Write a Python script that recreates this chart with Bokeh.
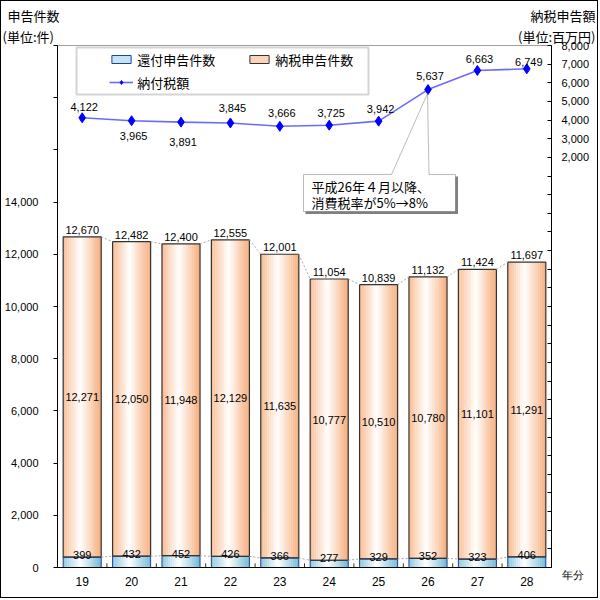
import numpy as np
from bokeh.plotting import figure
from bokeh.models import (Range1d, LinearAxis, FixedTicker, NumeralTickFormatter, ColumnDataSource,
                          Legend, LegendItem, Label, PolyAnnotation, BoxAnnotation, Title)
from bokeh.core.properties import value
from bokeh.embed import file_html
from bokeh.resources import INLINE

# ---------------- data ----------------
years = ["19", "20", "21", "22", "23", "24", "25", "26", "27", "28"]
refund_counts = [399, 432, 452, 426, 366, 277, 329, 352, 323, 406]          # 還付申告件数
tax_counts = [12271, 12050, 11948, 12129, 11635, 10777, 10510, 10780, 11101, 11291]  # 納税申告件数
total_counts = [12670, 12482, 12400, 12555, 12001, 11054, 10839, 11132, 11424, 11697]
tax_amounts = [4122, 3965, 3891, 3845, 3666, 3725, 3942, 5637, 6663, 6749]  # 納付税額(百万円)
left_ticks = list(range(0, 20001, 2000))
left_labelled_max = 14000
right_ticks = list(range(-20000, 8001, 1000))
right_labelled_min = 2000
x_unit_label = "年分"
left_title, left_unit = "申告件数", "(単位:件)"
right_title, right_unit = "納税申告額", "(単位:百万円)"

# ---------------- style ----------------
NUM_FONT = "Liberation Sans"
NUM_SIZE = "11px"
JP_FONT = "Noto Sans CJK JP"
amount_label_dy = [-11, 15, 20, -15, -13, -12, -12, -14, -11, -7]

W, H = 598, 598
p = figure(width=W, height=H, x_range=Range1d(0, 10), y_range=Range1d(0, 20000),
           output_backend="svg", toolbar_location=None,
           min_border_left=56, min_border_right=48, min_border_top=44, min_border_bottom=32)
p.styles = {"border": "1px solid black"}
p.extra_y_ranges = {"amt": Range1d(-20000, 8000)}
p.xgrid.visible = False
p.ygrid.visible = False
p.outline_line_color = "#A0A0A0"
p.outline_line_width = 1
p.background_fill_color = "white"
p.border_fill_color = "white"

xc = np.arange(len(years)) + 0.5
bw = 0.77
refund = np.array(refund_counts, dtype=float)
total = np.array(total_counts, dtype=float)


def lerp(a, b, t):
    return tuple(int(round(a[i] + (b[i] - a[i]) * t)) for i in range(3))


def grad(c0, c1, t, mid=0.45):
    w = (255, 255, 255)
    c = lerp(c0, w, t / mid) if t < mid else lerp(w, c1, (t - mid) / (1 - mid))
    return "#%02x%02x%02x" % c


PEACH_L, PEACH_R = (249, 188, 146), (245, 172, 122)
BLUE_L, BLUE_R = (140, 200, 224), (110, 185, 214)

N = 18
for k in range(N):
    t = (k + 0.5) / N
    xs = xc - bw / 2 + (k + 0.5) * bw / N
    p.vbar(x=xs, bottom=0, top=refund, width=bw / N * 1.12,
           fill_color=grad(BLUE_L, BLUE_R, t), line_color=None)
    p.vbar(x=xs, bottom=refund, top=total, width=bw / N * 1.12,
           fill_color=grad(PEACH_L, PEACH_R, t), line_color=None)

# outlines
p.vbar(x=xc, bottom=0, top=refund, width=bw, fill_color=None, line_color="#2040A0", line_width=1)
p.vbar(x=xc, bottom=refund, top=total, width=bw, fill_color=None, line_color="#333333", line_width=1.2)

# series lines
p.segment(x0=xc[:-1] + bw / 2, y0=total[:-1], x1=xc[1:] - bw / 2, y1=total[1:],
          line_color="#A8A8A8", line_dash="2 2", line_width=1)
p.segment(x0=xc[:-1] + bw / 2, y0=refund[:-1], x1=xc[1:] - bw / 2, y1=refund[1:],
          line_color="#A8A8A8", line_dash="2 2", line_width=1)

# category boundary ticks
bounds = np.arange(1, len(years))
p.segment(x0=bounds, y0=0, x1=bounds, y1=160, line_color="#333333", line_width=1)

# bar labels
lab_src = ColumnDataSource(dict(
    x=xc, total=total, total_t=[f"{v:,}" for v in total_counts],
    mid=refund + np.array(tax_counts) / 2, tax_t=[f"{v:,}" for v in tax_counts],
    refund=refund, refund_t=[f"{v:,}" for v in refund_counts]))
common = dict(text_font=value(NUM_FONT), text_font_size=NUM_SIZE, text_color="black", text_align="center")
p.text(x="x", y="total", text="total_t", source=lab_src, text_baseline="bottom", y_offset=-3, **common)
p.text(x="x", y="mid", text="tax_t", source=lab_src, text_baseline="middle", **common)
p.text(x="x", y="refund", text="refund_t", source=lab_src, text_baseline="bottom", y_offset=2, **common)

# tax amount line
amt_src = ColumnDataSource(dict(x=xc, y=tax_amounts, t=[f"{v:,}" for v in tax_amounts], dy=amount_label_dy))
r_line = p.line(x="x", y="y", source=amt_src, y_range_name="amt", line_color="#6A6AFF", line_width=1.6)
r_pts = p.scatter(x="x", y="y", source=amt_src, y_range_name="amt", marker="diamond", size=10,
                  fill_color="#0000FF", line_color="#0000FF")
p.text(x="x", y="y", text="t", source=amt_src, y_range_name="amt", text_baseline="middle",
       x_offset=2, y_offset="dy", **common)

# ---------------- axes ----------------
p.yaxis.ticker = FixedTicker(ticks=left_ticks)
p.yaxis.formatter = NumeralTickFormatter(format="0,0")
p.yaxis.major_label_overrides = {t: "" for t in left_ticks if t > left_labelled_max}
p.yaxis.major_tick_out = 4
p.yaxis.major_tick_in = 0
p.yaxis.minor_tick_line_color = None
p.yaxis.major_label_standoff = 15
p.yaxis.axis_line_color = "black"
p.yaxis.major_label_text_font = NUM_FONT
p.yaxis.major_label_text_font_size = NUM_SIZE
p.yaxis.major_label_text_color = "black"

right_over = {t: "" for t in right_ticks if t < right_labelled_min}
right_over[right_ticks[0]] = "\n" + x_unit_label
ry = LinearAxis(y_range_name="amt", ticker=FixedTicker(ticks=right_ticks),
                formatter=NumeralTickFormatter(format="0,0"),
                major_label_overrides=right_over,
                major_tick_in=4, major_tick_out=0, minor_tick_line_color=None,
                major_label_standoff=10, axis_line_color="black",
                major_label_text_font=NUM_FONT, major_label_text_font_size=NUM_SIZE,
                major_label_text_color="black")
p.add_layout(ry, "right")

p.xaxis.ticker = FixedTicker(ticks=list(xc))
p.xaxis.major_label_overrides = {float(x): y for x, y in zip(xc, years)}
p.xaxis.major_tick_in = 0
p.xaxis.major_tick_out = 0
p.xaxis.minor_tick_line_color = None
p.xaxis.major_label_standoff = 9
p.xaxis.axis_line_color = "black"
p.xaxis.major_label_text_font = NUM_FONT
p.xaxis.major_label_text_font_size = "12px"
p.xaxis.major_label_text_color = "black"

# ---------------- legend ----------------
FX0, FY0 = 57, 567   # frame bottom-left in reference pixels (for screen-unit annotations)


def fx(x):
    return x - FX0


def fy(y):
    return FY0 - y


p.add_layout(BoxAnnotation(left=fx(76), right=fx(368), top=fy(47), bottom=fy(94),
                           left_units="screen", right_units="screen", top_units="screen",
                           bottom_units="screen", fill_color="white", fill_alpha=1,
                           line_color="#707070", line_width=2, level="annotation"))

zero = np.zeros(len(years))
r_blue = p.vbar(x=xc, bottom=zero, top=zero, width=bw, fill_color="#C4E4F0", line_color="#2040A0")
r_peach = p.vbar(x=xc, bottom=zero, top=zero, width=bw, fill_color="#FBD3B6", line_color="#333333")
legend = Legend(items=[LegendItem(label="還付申告件数", renderers=[r_blue]),
                       LegendItem(label="納税申告件数", renderers=[r_peach]),
                       LegendItem(label="納付税額", renderers=[r_line, r_pts])],
                orientation="horizontal", ncols=2, location=(fx(109.3), fy(91.7)),
                border_line_color=None, background_fill_alpha=0,
                label_text_font=JP_FONT, label_text_font_size="13px", label_text_color="black",
                glyph_width=24, glyph_height=10, label_height=18, label_standoff=4,
                spacing=4, padding=0, margin=0, label_width=106)
p.add_layout(legend)

# ---------------- callout ----------------
p.add_layout(BoxAnnotation(left=fx(305), right=fx(457.5), top=fy(176), bottom=fy(213.5),
                           left_units="screen", right_units="screen", top_units="screen",
                           bottom_units="screen", fill_color="#808080", fill_alpha=1,
                           line_color=None, level="annotation"))
cx = [303, 391, 427, 428.5, 455, 455, 303]
cy = [174, 174, 93, 174, 174, 211, 211]
p.add_layout(PolyAnnotation(xs=[fx(v) for v in cx], ys=[fy(v) for v in cy],
                            xs_units="screen", ys_units="screen",
                            fill_color="white", fill_alpha=1, line_color="#202020", line_width=1))
for txt, yy in [("平成26年４月以降、", 186), ("消費税率が5%→8%", 201.5)]:
    p.add_layout(Label(x=fx(311), y=fy(yy), x_units="screen", y_units="screen", text=txt,
                       text_font=JP_FONT, text_font_size="13px", text_baseline="middle",
                       text_color="black"))

# ---------------- unit titles (top panel; left and right parts on one row) ----------------
GAP1 = "\u3000" * 35 + "\u2002\u2009"
GAP2 = "\u3000" * 36 + " "
title_rows = [(left_unit + GAP1 + right_unit, 2), (left_title + GAP2 + right_title, 7)]
for txt, xx in title_rows:
    p.add_layout(Title(text=txt, align="left", offset=xx - FX0, standoff=0,
                       text_font=JP_FONT, text_font_size="13px", text_font_style="normal",
                       text_color="black", vertical_align="bottom"), "above")

open("out.html", "w").write(file_html(p, INLINE))
